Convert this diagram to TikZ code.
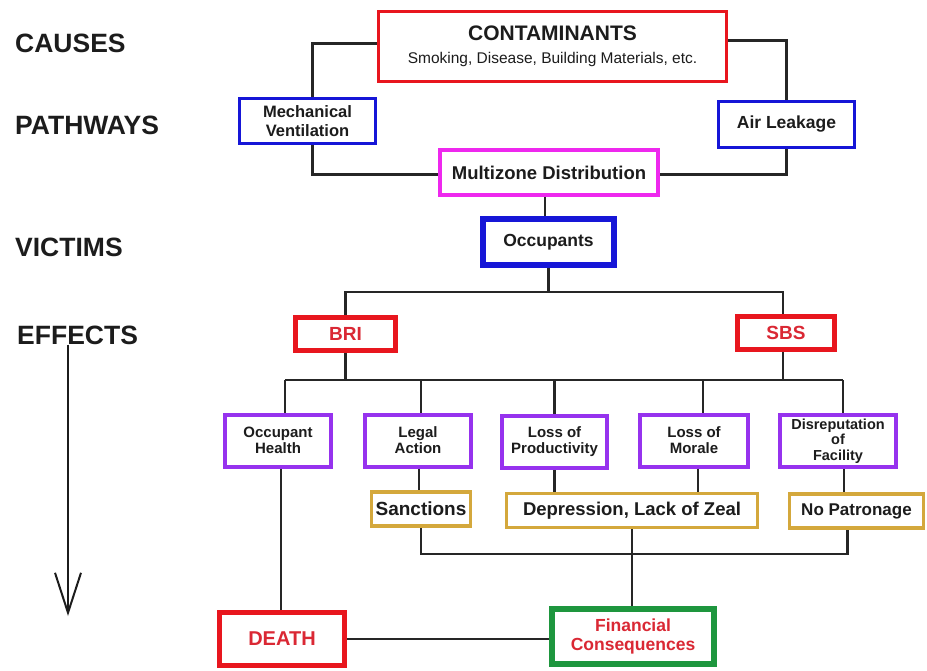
\documentclass[tikz,border=0pt]{standalone}
\usepackage{fontspec}
\setmainfont{Liberation Sans}
\usetikzlibrary{arrows.meta}
\definecolor{boxred}{RGB}{232,22,30}
\definecolor{txtred}{RGB}{218,40,52}
\definecolor{boxblue}{RGB}{22,22,215}
\definecolor{boxmag}{RGB}{238,40,238}
\definecolor{boxviolet}{RGB}{150,50,238}
\definecolor{boxgold}{RGB}{212,168,60}
\definecolor{boxgreen}{RGB}{30,150,62}
\definecolor{txtgray}{RGB}{28,28,28}
\tikzstyle{every picture}=[->,>={Straight Barb[length=40pt,width=26pt,line width=2pt]}]
\tikzstyle{box}=[-, draw, fill=white, align=center, inner sep=0pt, text=txtgray]
\tikzstyle{link}=[-, line width=2.2pt, black!85]
\tikzstyle{level}=[anchor=west, inner sep=0pt, text=txtgray, font=\fontsize{26.5}{28}\selectfont\bfseries]
\tikzstyle{effect}=[box, draw=boxviolet, line width=4pt, minimum width=106pt, minimum height=52pt, font=\fontsize{15}{16}\selectfont\bfseries]
\tikzstyle{result}=[box, draw=boxgold, line width=3.5pt, minimum height=34pt]

\begin{document}
\begin{tikzpicture}[x=1pt,y=-1pt]
\useasboundingbox (0,0) rectangle (927,671);
% left column
\node[level] (causes) at (15,43) {CAUSES};
\node[level] (paths) at (15,125) {PATHWAYS};
\node[level] (victims) at (15,247) {VICTIMS};
\node[level] (effects) at (17,335) {EFFECTS};
\coordinate (down) at (68,616);
\draw[line width=2pt, txtgray] (effects.south -| down) -- (down);

% causes and pathways
\node[box, draw=boxred, line width=3.5pt, minimum width=348pt, minimum height=70pt] (cont) at (552.5,46.5)
  {{\fontsize{21}{22}\selectfont\bfseries CONTAMINANTS}\\[11pt]
   {\fontsize{15.5}{17}\selectfont Smoking, Disease, Building Materials, etc.}};
\node[box, draw=boxblue, line width=3.5pt, minimum width=136pt, minimum height=45pt,
  font=\fontsize{16.5}{19}\selectfont\bfseries] (mech) at (307.5,121) {Mechanical\\Ventilation};
\node[box, draw=boxblue, line width=3.5pt, minimum width=136pt, minimum height=46pt,
  font=\fontsize{17.5}{20}\selectfont\bfseries] (air) at (786.5,124.5) {Air Leakage};
\node[box, draw=boxmag, line width=4pt, minimum width=218pt, minimum height=45pt,
  font=\fontsize{18.5}{20}\selectfont\bfseries] (multi) at (549,172.5) {Multizone Distribution};

% victims
\node[box, draw=boxblue, line width=6pt, minimum width=131pt, minimum height=46pt,
  font=\fontsize{17.5}{20}\selectfont\bfseries] (occ) at (548.5,242) {Occupants};

% effects
\node[box, draw=boxred, line width=5pt, minimum width=100pt, minimum height=33pt, text=txtred,
  font=\fontsize{19}{20}\selectfont\bfseries] (bri) at (345.5,334) {BRI};
\node[box, draw=boxred, line width=5pt, minimum width=97pt, minimum height=33pt, text=txtred,
  font=\fontsize{19}{20}\selectfont\bfseries] (sbs) at (786,333) {SBS};

\node[effect] (health) at (278,440.5) {Occupant\\Health};
\node[effect] (legal) at (418,440.5) {Legal\\Action};
\node[effect, minimum width=105pt] (prod) at (554.5,442) {Loss of\\Productivity};
\node[effect, minimum width=108pt] (morale) at (694,440.5) {Loss of\\Morale};
\node[effect, minimum width=116pt, font=\fontsize{14.5}{15.5}\selectfont\bfseries] (disrep) at (838,441) {Disreputation\\of\\Facility};

\node[result, minimum width=99pt, font=\fontsize{19}{20}\selectfont\bfseries] (sanc) at (421,509) {Sanctions};
\node[result, minimum width=251pt, font=\fontsize{18.5}{20}\selectfont\bfseries] (depr) at (632,510.5) {Depression, Lack of Zeal};
\node[result, minimum width=134pt, font=\fontsize{17}{20}\selectfont\bfseries] (nopat) at (856.5,511) {No Patronage};

\node[box, draw=boxred, line width=5pt, minimum width=125pt, minimum height=53pt, text=txtred,
  font=\fontsize{20}{22}\selectfont\bfseries] (death) at (282,639) {DEATH};
\node[box, draw=boxgreen, line width=6pt, minimum width=162pt, minimum height=55pt, text=txtred,
  font=\fontsize{17.5}{19}\selectfont\bfseries] (fin) at (633,636.5) {Financial\\Consequences};

% connectors
\draw[link] ([yshift=3]cont.west) -| ([xshift=5]mech.north);
\draw[link] ([xshift=5]mech.south) |- ([yshift=-2]multi.west);
\draw[link] ([yshift=6]cont.east) -| (air.north);
\draw[link] (air.south) |- ([yshift=-2]multi.east);
\draw[link] ([xshift=-4]multi.south) -- ([xshift=-4]multi.south |- occ.north);

\coordinate (split) at (0,292);
\draw[link] (occ.south) -- (occ.south |- split);
\draw[link] (bri.north) |- (occ.south |- split) -| ([xshift=-3]sbs.north);

\coordinate (busA) at (0,380);
\draw[link] (bri.south) -- (bri.south |- busA);
\draw[link] ([xshift=-3]sbs.south) -- ([xshift=-3]sbs.south |- busA);
\draw[link] ([xshift=7]health.north |- busA) -- ([xshift=5]disrep.north |- busA);
\draw[link] ([xshift=7]health.north |- busA) -- ([xshift=7]health.north);
\draw[link] ([xshift=3]legal.north |- busA) -- ([xshift=3]legal.north);
\draw[link] (prod.north |- busA) -- (prod.north);
\draw[link] ([xshift=9]morale.north |- busA) -- ([xshift=9]morale.north);
\draw[link] ([xshift=5]disrep.north |- busA) -- ([xshift=5]disrep.north);

\draw[link] ([xshift=3]health.south) -- ([xshift=3]health.south |- death.north);
\draw[link] ([xshift=1]legal.south) -- ([xshift=1]legal.south |- sanc.north);
\draw[link] (prod.south) -- (prod.south |- depr.north);
\draw[link] ([xshift=4]morale.south) -- ([xshift=4]morale.south |- depr.north);
\draw[link] ([xshift=6]disrep.south) -- ([xshift=6]disrep.south |- nopat.north);

\coordinate (busB) at (0,554);
\draw[link] (sanc.south) |- ([xshift=-9]nopat.south |- busB) -- ([xshift=-9]nopat.south);
\draw[link] (depr.south) -- (depr.south |- fin.north);
\draw[link] (death.east) -- (death.east -| fin.west);
\end{tikzpicture}
\end{document}
